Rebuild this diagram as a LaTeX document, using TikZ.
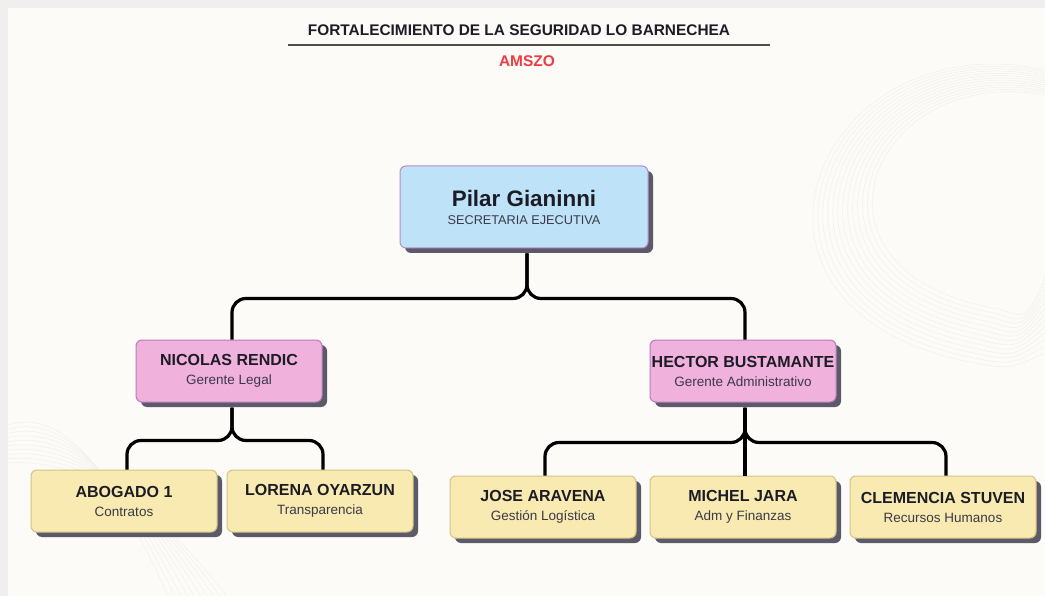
\documentclass[tikz,border=0pt]{standalone}
\usepackage{fontspec}
\setmainfont{Liberation Sans}
\usetikzlibrary{shadows,calc}
\definecolor{bgc}{HTML}{FCFBF7}
\definecolor{edgec}{HTML}{EFEFEF}
\definecolor{decoc}{HTML}{F1F0EC}
\definecolor{bluef}{HTML}{BEE2F8}
\definecolor{pinkf}{HTML}{F0B1DD}
\definecolor{yellf}{HTML}{F8EAB0}
\definecolor{purpd}{HTML}{B68CCB}
\definecolor{pinkd}{HTML}{B67DBA}
\definecolor{yelld}{HTML}{D2C385}
\definecolor{namec}{HTML}{1C1C26}
\definecolor{subc}{HTML}{3A3A48}
\definecolor{redc}{HTML}{EE3B43}
\definecolor{shadc}{HTML}{5C5A68}
\tikzset{
  card/.style={rounded corners=6pt, line width=1pt, align=center, inner sep=0pt,
    minimum width=186pt, minimum height=62pt,
    drop shadow={shadow xshift=5pt, shadow yshift=-5pt, fill=shadc, opacity=1}},
  topcard/.style={card, fill=bluef, draw=purpd, minimum width=248pt, minimum height=82pt},
  midcard/.style={card, fill=pinkf, draw=pinkd},
  lowcard/.style={card, fill=yellf, draw=yelld},
  link/.style={line width=3.2pt, black, rounded corners=14pt},
  deco/.style={decoc, line width=0.5pt},
}
\newcommand{\cardtext}[2]{{\bfseries\fontsize{16}{19}\selectfont\color{namec}#1}\\[7pt]{\fontsize{13.5}{16}\selectfont\color{subc}#2}}
\begin{document}
\begin{tikzpicture}[x=1pt,y=-1pt]
\useasboundingbox (0,0) rectangle (1045,596);
\fill[edgec] (0,0) rectangle (1045,596);
\fill[bgc] (8,8) rectangle (1045,596);
% faint background decoration
\begin{scope}
\clip (8,8) rectangle (1045,596);
\foreach \r in {0,7,...,84} {
  \draw[deco] (1045,{70+\r*0.3}) .. controls ({820+\r*0.6},{20+\r*0.5}) and ({700+\r},{300-\r*0.3}) .. ({960+\r*0.5},{360-\r*0.6}) .. controls ({1010+\r*0.2},{370-\r*0.6}) .. (1050,{350-\r});
}
\foreach \r in {0,6,...,54} {
  \draw[deco] (8,{425+\r*0.7}) .. controls ({70+\r*0.4},{405+\r}) and ({120+\r*0.8},{490+\r*0.4}) .. ({170+\r*1.1},600);
}
\end{scope}
% title
\node[font=\bfseries\fontsize{15.4}{18}\selectfont, text=namec] (title) at (519,30) {FORTALECIMIENTO DE LA SEGURIDAD LO BARNECHEA};
\coordinate (ulL) at (288,45);
\coordinate (ulR) at (770,45);
\draw[line width=1.2pt, black!70] (ulL) -- (ulR);
\node[font=\bfseries\fontsize{15.5}{18}\selectfont, text=redc] (amszo) at (527,61) {AMSZO};
% nodes
\node[topcard] (pilar) at (524,207) {{\bfseries\fontsize{22.4}{26}\selectfont\color{namec}Pilar Gianinni}\\[6pt]{\fontsize{12.7}{15}\selectfont\color{subc}SECRETARIA EJECUTIVA}};
\node[midcard] (nicolas) at (229,371) {\cardtext{NICOLAS RENDIC}{Gerente Legal}};
\node[midcard] (hector) at (743,371) {\cardtext{HECTOR BUSTAMANTE}{Gerente Administrativo}};
\node[lowcard] (abogado) at (124,501) {\cardtext{ABOGADO 1}{Contratos}};
\node[lowcard] (lorena) at (320,501) {\cardtext{LORENA OYARZUN}{Transparencia}};
\node[lowcard] (jose) at (543,507) {\cardtext{JOSE ARAVENA}{Gestión Logística}};
\node[lowcard] (michel) at (743,507) {\cardtext{MICHEL JARA}{Adm y Finanzas}};
\node[lowcard] (clemencia) at (943,507) {\cardtext{CLEMENCIA STUVEN}{Recursos Humanos}};
% connectors
\draw[link] ($(pilar.south)+(3,5)$) -- ++(0,45) -| ($(nicolas.north)+(3,0)$);
\draw[link] ($(pilar.south)+(3,5)$) -- ++(0,45) -| ($(hector.north)+(2,0)$);
\draw[link] ($(nicolas.south)+(3,5)$) -- ++(0,33) -| ($(abogado.north)+(3,0)$);
\draw[link] ($(nicolas.south)+(3,5)$) -- ++(0,33) -| ($(lorena.north)+(3,0)$);
\draw[link] ($(hector.south)+(2,5)$) -- ++(0,35) -| ($(jose.north)+(2,0)$);
\draw[link] ($(hector.south)+(2,5)$) -- ++(0,35) -| ($(clemencia.north)+(3,0)$);
\draw[line width=3.2pt, black] ($(hector.south)+(2,5)$) -- ($(michel.north)+(2,0)$);
\end{tikzpicture}
\end{document}
